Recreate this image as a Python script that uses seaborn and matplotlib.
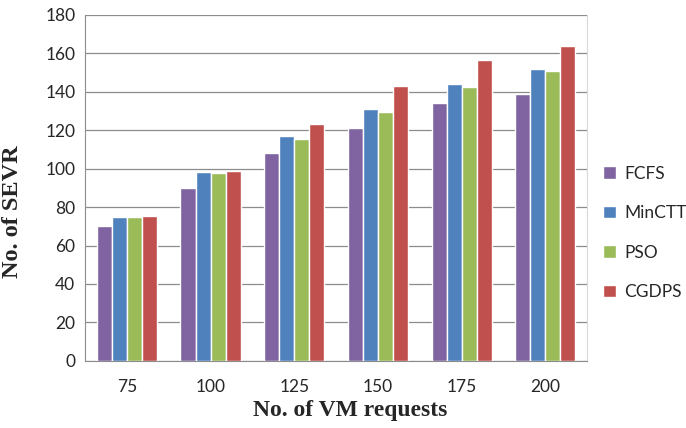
import pandas as pd
import seaborn as sns
import matplotlib.pyplot as plt
from matplotlib.ticker import FixedLocator

# --- dados ---
vm_requests = ["75", "100", "125", "150", "175", "200"]
fcfs = [70, 90, 108, 121, 134, 139]
minctt = [75, 98.5, 117, 131, 144, 152]
pso = [75, 98, 115.5, 129.5, 142.5, 151]
cgdps = [75.3, 99, 123.5, 143, 156.5, 164]
algoritmos = ["FCFS", "MinCTT", "PSO", "CGDPS"]
cores = ["#8064A2", "#4F81BD", "#9BBB59", "#C0504D"]

df = pd.DataFrame({
    "VM": vm_requests * 4,
    "SEVR": fcfs + minctt + pso + cgdps,
    "Alg": [a for a in algoritmos for _ in vm_requests],
})

sns.set_style("white")
fig = plt.figure(figsize=(6.86, 4.28), dpi=100)
ax = fig.add_axes([0.124, 0.157, 0.732, 0.808])

sns.barplot(data=df, x="VM", y="SEVR", hue="Alg", hue_order=algoritmos,
            palette=cores, width=0.72, gap=0, saturation=1, ax=ax, zorder=3)

ax.set_ylim(0, 180)
ax.set_yticks(range(0, 181, 20))
ax.set_xlim(-0.5, len(vm_requests) - 0.5)
ax.grid(axis="y", color="#8c8c8c", linewidth=0.9, zorder=0)
ax.set_axisbelow(True)

for s in ["left", "bottom"]:
    ax.spines[s].set_color("#8c8c8c")
ax.spines["top"].set_visible(False)
ax.spines["right"].set_color("#d9d9d9")

# marcas entre categorias no eixo x
ax.xaxis.set_minor_locator(FixedLocator([i - 0.5 for i in range(len(vm_requests) + 1)]))
ax.tick_params(axis="x", which="major", length=0, pad=13, labelsize=12.5)
ax.tick_params(axis="x", which="minor", length=5, color="#8c8c8c", direction="out")
ax.tick_params(axis="y", length=4, color="#8c8c8c", direction="out", labelsize=12.5, pad=3)
for lbl in ax.get_xticklabels() + ax.get_yticklabels():
    lbl.set_family(["Lato", "DejaVu Sans"])

ax.set_xlabel("No. of VM requests", fontsize=17, fontweight="bold",
              family="Liberation Serif")
ax.set_ylabel("No. of SEVR", fontsize=17.5, fontweight="bold",
              family="Liberation Serif")
ax.xaxis.set_label_coords(0.528, -0.113)
ax.yaxis.set_label_coords(-0.123, 0.43)

leg = ax.legend(loc="center left", bbox_to_anchor=(1.0, 0.37), frameon=False,
                handlelength=0.75, handleheight=0.75, handletextpad=0.5,
                labelspacing=1.35, prop={"family": "Lato", "size": 12.5})

plt.savefig("out.png", dpi=100)
